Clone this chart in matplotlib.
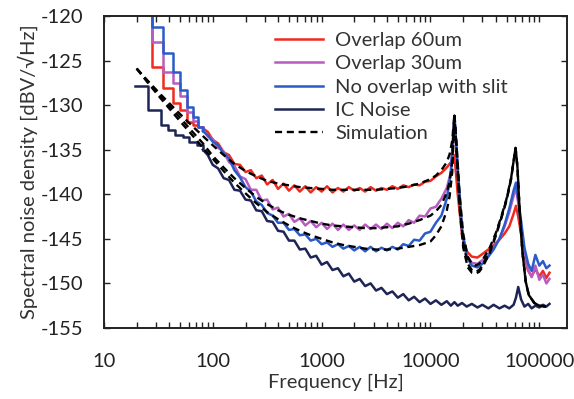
import matplotlib
matplotlib.use("Agg")
import matplotlib.pyplot as plt
from matplotlib.ticker import FixedLocator, LogLocator, NullFormatter

plt.rcParams['font.family'] = ['Lato', 'DejaVu Sans']
plt.rcParams['axes.unicode_minus'] = False

# low-frequency FFT bins (drawn as steps)
step_f = [20, 27.6, 35.2, 42.8, 50.4, 58.0, 65.6, 73.2, 81]
red_lo = [-118, -125.7, -128.1, -129.8, -130.5, -131.9, -132.2, -132.4, -132.6]
purple_lo = [-118, -122.9, -126.3, -127.5, -129.0, -130.8, -131.8, -132.4, -132.7]
blue_lo = [-118, -121.2, -124.2, -126.3, -128.3, -130.2, -131.3, -132.4, -132.9]
navy_f = [19.3, 25.4, 33.3, 38.6, 44.7, 53, 61, 71, 81]
navy_lo = [-127.9, -130.5, -132.2, -132.8, -133.4, -133.6, -134.1, -134.5, -135.0]

# measured spectra
freq = [81, 90, 100, 112, 126, 141, 158, 178, 200, 224,
        251, 282, 316, 355, 398, 447, 501, 562, 631, 708,
        794, 891, 1000, 1122, 1259, 1413, 1585, 1778, 1995, 2239,
        2512, 2818, 3162, 3548, 3981, 4467, 5012, 5623, 6310, 7079,
        7943, 8913, 10000, 11220, 12590, 14130, 15400, 16600, 17800, 19500,
        21500, 24000, 27000, 30000, 34000, 38000, 43000, 48000, 53000, 58000,
        61000, 64000, 68000, 73000, 79000, 85000, 92000, 100000, 108000, 116000,
        124000]
red = [-132.6, -133.0, -133.9, -134.3, -135.3, -135.6, -136.6, -136.7, -137.5, -137.3,
       -138.2, -137.9, -138.9, -138.4, -139.4, -138.8, -139.6, -139.0, -139.7, -139.1,
       -139.8, -139.2, -139.7, -139.1, -139.8, -139.3, -139.7, -139.2, -139.6, -139.3,
       -139.7, -139.2, -139.6, -139.3, -139.5, -139.1, -139.4, -139.0, -139.2, -138.9,
       -139.0, -138.6, -138.5, -138.0, -137.6, -137.0, -136.4, -135.6, -140.0, -144.5,
       -146.4, -147.0, -147.1, -146.7, -146.2, -145.7, -145.1, -144.4, -143.6, -142.2,
       -141.3, -142.5, -144.5, -147.0, -148.6, -149.2, -148.4, -149.2, -148.6, -149.4,
       -148.8]
purple = [-132.7, -133.5, -133.8, -134.8, -135.2, -136.4, -136.8, -138.0, -138.3, -139.5,
          -139.5, -140.7, -140.6, -141.7, -141.5, -142.5, -142.2, -143.1, -142.7, -143.5,
          -143.0, -143.7, -143.2, -143.9, -143.3, -144.0, -143.4, -144.0, -143.5, -144.0,
          -143.4, -143.9, -143.4, -143.9, -143.3, -143.8, -143.2, -143.6, -142.9, -143.2,
          -142.4, -142.5, -141.6, -141.4, -140.5, -139.3, -137.5, -131.6, -137.5, -144.0,
          -146.9, -147.7, -147.8, -147.4, -146.8, -146.0, -145.0, -143.6, -142.0, -140.2,
          -139.3, -141.0, -143.8, -146.5, -148.5, -149.3, -148.0, -149.6, -149.0, -150.0,
          -149.5]
blue = [-132.9, -133.4, -134.1, -134.5, -135.4, -136.0, -137.3, -138.1, -139.2, -139.7,
        -140.8, -141.2, -142.1, -142.4, -143.2, -143.2, -144.0, -143.9, -144.6, -144.5,
        -145.2, -145.0, -145.6, -145.4, -145.9, -145.6, -146.1, -145.8, -146.3, -145.9,
        -146.4, -145.9, -146.4, -146.0, -146.3, -145.9, -146.2, -145.6, -145.8, -145.1,
        -145.2, -144.4, -144.2, -143.2, -142.4, -140.5, -137.5, -131.2, -137.0, -144.0,
        -147.0, -148.0, -148.2, -147.8, -147.0, -146.2, -145.0, -143.4, -141.6, -139.6,
        -138.7, -140.5, -143.0, -146.0, -147.8, -148.6, -146.8, -148.0, -147.5, -148.3,
        -148.0]
navy = [-135.0, -135.6, -136.7, -137.1, -138.2, -138.4, -139.5, -139.6, -140.6, -140.7,
        -141.8, -141.9, -143.0, -143.1, -144.1, -144.2, -145.2, -145.2, -146.2, -146.1,
        -147.1, -146.9, -147.9, -147.6, -148.5, -148.3, -149.2, -148.9, -149.8, -149.5,
        -150.3, -150.0, -150.8, -150.5, -151.2, -150.9, -151.6, -151.2, -151.9, -151.5,
        -152.1, -151.7, -152.3, -151.9, -152.4, -152.0, -152.5, -152.1, -152.5, -152.2,
        -152.6, -152.3, -152.7, -152.4, -152.8, -152.4, -152.8, -152.5, -152.8, -152.4,
        -151.6, -150.4, -151.8, -152.6, -152.3, -152.8, -152.5, -152.7, -152.4, -152.6,
        -152.3]

# simulation curves
sim_f = [20, 25, 32, 40, 50, 63, 80, 100, 126, 158,
         200, 251, 316, 398, 501, 631, 794, 1000, 1259, 1585,
         1995, 2512, 3162, 3981, 5012, 6310, 7943, 10000, 11220, 12590,
         14130, 15000, 15850, 16600, 17400, 18500, 20000, 22000, 24000, 26000,
         28000, 30000, 35000, 40000, 45000, 50000, 55000, 58000, 60500, 63000,
         66000, 70000, 75000, 80000, 90000, 100000, 115000]
sim_red = [-125.9, -127.2, -128.6, -129.8, -131.0, -132.2, -133.4, -134.5, -135.6, -136.6,
           -137.4, -138.0, -138.5, -138.8, -139.0, -139.2, -139.3, -139.4, -139.5, -139.5,
           -139.5, -139.5, -139.5, -139.4, -139.3, -139.1, -138.8, -138.3, -137.9, -137.3,
           -136.4, -135.5, -134.0, -131.0, -134.5, -140.0, -144.5, -147.0, -147.8, -148.0,
           -147.8, -147.4, -146.0, -144.3, -142.4, -140.5, -138.2, -136.3, -134.8, -137.0,
           -142.0, -146.5, -149.8, -151.3, -152.2, -152.5, -152.6]
sim_purple = [-125.9, -127.3, -128.8, -130.1, -131.4, -132.8, -134.2, -135.7, -137.0, -138.2,
              -139.3, -140.3, -141.1, -141.8, -142.3, -142.7, -143.0, -143.3, -143.5, -143.6,
              -143.7, -143.8, -143.8, -143.7, -143.6, -143.3, -142.9, -142.4, -141.9, -141.2,
              -139.8, -138.6, -136.3, -131.2, -135.0, -141.0, -145.5, -147.8, -148.5, -148.7,
              -148.5, -148.0, -146.4, -144.5, -142.5, -140.6, -138.3, -136.3, -134.8, -137.0,
              -142.0, -146.5, -149.8, -151.3, -152.2, -152.5, -152.6]
sim_blue = [-125.9, -127.4, -129.0, -130.4, -131.8, -133.2, -134.7, -136.0, -137.4, -138.7,
            -139.9, -141.0, -142.0, -142.8, -143.5, -144.1, -144.6, -145.0, -145.4, -145.7,
            -145.9, -146.1, -146.2, -146.2, -146.1, -145.9, -145.7, -145.3, -144.6, -143.6,
            -141.8, -140.2, -137.5, -131.2, -135.5, -141.5, -146.0, -148.2, -148.8, -148.9,
            -148.7, -148.2, -146.6, -144.6, -142.6, -140.7, -138.3, -136.3, -134.8, -137.0,
            -142.0, -146.5, -149.8, -151.3, -152.2, -152.5, -152.6]

c_red = '#f02a20'
c_purple = '#b85cc0'
c_blue = '#2a5bc8'
c_navy = '#1e2556'
c_text = '#222222'

fig = plt.figure(figsize=(5.74, 3.99), dpi=100)
ax = fig.add_axes([0.181, 0.178, 0.807, 0.782])

lw = 1.8
ax.step(step_f, red_lo, where='post', color=c_red, lw=lw)
ax.plot(freq, red, color=c_red, lw=lw, label='Overlap 60um')
ax.step(step_f, purple_lo, where='post', color=c_purple, lw=lw)
ax.plot(freq, purple, color=c_purple, lw=lw, label='Overlap 30um')
ax.step(step_f, blue_lo, where='post', color=c_blue, lw=lw)
ax.plot(freq, blue, color=c_blue, lw=lw, label='No overlap with slit')
ax.step(navy_f, navy_lo, where='post', color=c_navy, lw=lw)
ax.plot(freq, navy, color=c_navy, lw=lw, label='IC Noise')

dash = (0, (3, 2))
ax.plot(sim_f, sim_red, color='black', ls=dash, lw=1.7, label='Simulation')
ax.plot(sim_f, sim_purple, color='black', ls=dash, lw=1.7)
ax.plot(sim_f, sim_blue, color='black', ls=dash, lw=1.7)

ax.set_xscale('log')
ax.set_xlim(10, 180000)
ax.set_ylim(-155, -120)

xt = [10, 100, 1000, 10000, 100000]
ax.xaxis.set_major_locator(FixedLocator(xt))
ax.set_xticklabels([str(v) for v in xt])
ax.xaxis.set_minor_locator(LogLocator(base=10, subs=range(2, 10), numticks=20))
ax.xaxis.set_minor_formatter(NullFormatter())
ax.set_yticks([-155, -150, -145, -140, -135, -130, -125, -120])

ax.tick_params(which='both', direction='in', top=True, right=True,
               length=4, width=1, labelsize=14.5, colors=c_text)
ax.tick_params(axis='x', which='major', pad=18)
ax.tick_params(axis='y', pad=15)
for s in ax.spines.values():
    s.set_linewidth(1.4)
    s.set_color(c_text)

ax.set_xlabel('Frequency [Hz]', fontsize=14.5, color='#333333', labelpad=3)
ax.set_ylabel('Spectral noise density [dBV/√Hz]', fontsize=14.5, color='#333333', labelpad=2)

ax.legend(loc='upper left', bbox_to_anchor=(0.369, 0.948), frameon=False,
          fontsize=14.5, handlelength=2.4, handletextpad=0.6, labelspacing=0.3,
          borderaxespad=0, borderpad=0, labelcolor='#333333')

fig.savefig('out.png', dpi=100)
